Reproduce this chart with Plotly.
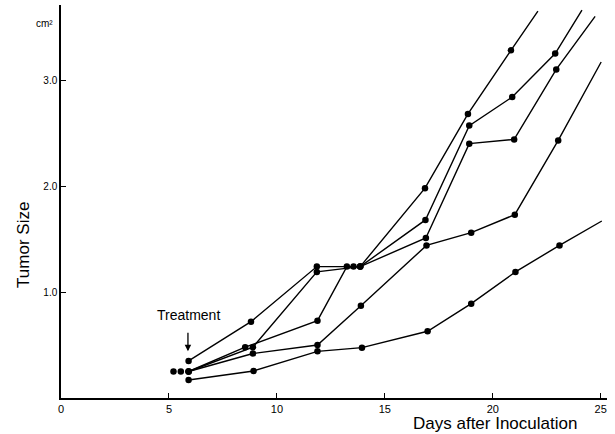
import plotly.graph_objects as go

# Days after inoculation (as drawn) and tumor size (cm^2) for five animals
days_a = [5.91, 8.80, 11.85, 13.86, 16.86, 18.85, 20.84, 22.09]
size_a = [0.35, 0.72, 1.24, 1.24, 1.98, 2.68, 3.28, 3.65]

days_b = [5.91, 8.53, 11.88, 13.24, 13.86, 16.88, 18.91, 20.90, 22.89, 24.13]
size_b = [0.25, 0.48, 0.73, 1.24, 1.24, 1.68, 2.57, 2.84, 3.25, 3.66]

days_c = [5.91, 8.89, 11.85, 13.86, 16.90, 18.91, 20.99, 22.94, 24.74]
size_c = [0.25, 0.48, 1.19, 1.24, 1.51, 2.40, 2.44, 3.10, 3.60]

days_d = [5.91, 8.89, 11.88, 13.89, 16.93, 19.00, 21.02, 23.03, 25.02]
size_d = [0.25, 0.42, 0.50, 0.87, 1.44, 1.56, 1.73, 2.43, 3.17]

days_e = [5.91, 8.92, 11.88, 13.94, 16.98, 19.00, 21.05, 23.09, 25.05]
size_e = [0.17, 0.255, 0.44, 0.475, 0.63, 0.89, 1.19, 1.44, 1.67]

# extra dots drawn beside overlapping points
extra_days = [5.21, 5.55, 13.55]
extra_size = [0.25, 0.25, 1.24]

x_ticks = [0, 5, 10, 15, 20, 25]
x_tick_labels = ["0", "5", "10", "15", "20", "25"]
y_ticks = [1, 2, 3]
y_tick_labels = ["1.0", "2.0", "3.0"]

series = [(days_a, size_a), (days_b, size_b), (days_c, size_c),
          (days_d, size_d), (days_e, size_e)]

fig = go.Figure()
for xs, ys in series:
    sizes = [6.5] * (len(xs) - 1) + [0]
    fig.add_trace(go.Scatter(
        x=xs, y=ys, mode="lines+markers",
        line=dict(color="black", width=1.4),
        marker=dict(color="black", size=sizes, opacity=1,
                    line=dict(width=0, color="black")),
        showlegend=False, cliponaxis=False,
    ))

fig.add_trace(go.Scatter(
    x=extra_days, y=extra_size, mode="markers",
    marker=dict(color="black", size=6.5, line=dict(width=0)),
    showlegend=False,
))

hand = "Liberation Sans Narrow, Liberation Sans, DejaVu Sans"

fig.update_layout(
    width=615, height=434,
    margin=dict(l=61, r=8, t=5, b=36),
    paper_bgcolor="white", plot_bgcolor="white",
    font=dict(family=hand, color="black"),
    xaxis=dict(
        range=[0, 25.29], showgrid=False, zeroline=False,
        showline=True, linecolor="black", linewidth=1.5,
        ticks="inside", ticklen=5, tickcolor="black", tickwidth=1.2,
        tickvals=x_ticks, ticktext=x_tick_labels,
        tickfont=dict(size=11, family=hand),
    ),
    yaxis=dict(
        range=[0, 3.708], showgrid=False, zeroline=False,
        showline=True, linecolor="black", linewidth=1.5,
        ticks="inside", ticklen=5, tickcolor="black", tickwidth=1.2,
        tickvals=y_ticks, ticktext=y_tick_labels,
        tickfont=dict(size=10, family=hand),
    ),
    annotations=[
        dict(x=-0.031, y=0.972, xref="paper", yref="paper", text="cm²",
             xanchor="center", showarrow=False,
             font=dict(size=10, family=hand)),
        dict(x=-0.07, y=0.389, xref="paper", yref="paper",
             text="Tumor Size", textangle=-90, showarrow=False,
             xanchor="center", yanchor="middle",
             font=dict(size=17, family=hand)),
        dict(x=0.795, y=-0.066, xref="paper", yref="paper",
             text="Days after Inoculation", showarrow=False,
             xanchor="center", yanchor="middle",
             font=dict(size=17, family=hand)),
        dict(x=5.88, y=0.44, ax=5.88, ay=0.63, xref="x", yref="y",
             axref="x", ayref="y", text="", showarrow=True,
             arrowhead=2, arrowsize=1, arrowwidth=1.3, arrowcolor="black"),
        dict(x=5.9, y=0.78, xref="x", yref="y", text="Treatment",
             showarrow=False, font=dict(size=14, family=hand)),
    ],
)

fig.write_html("out.html")
